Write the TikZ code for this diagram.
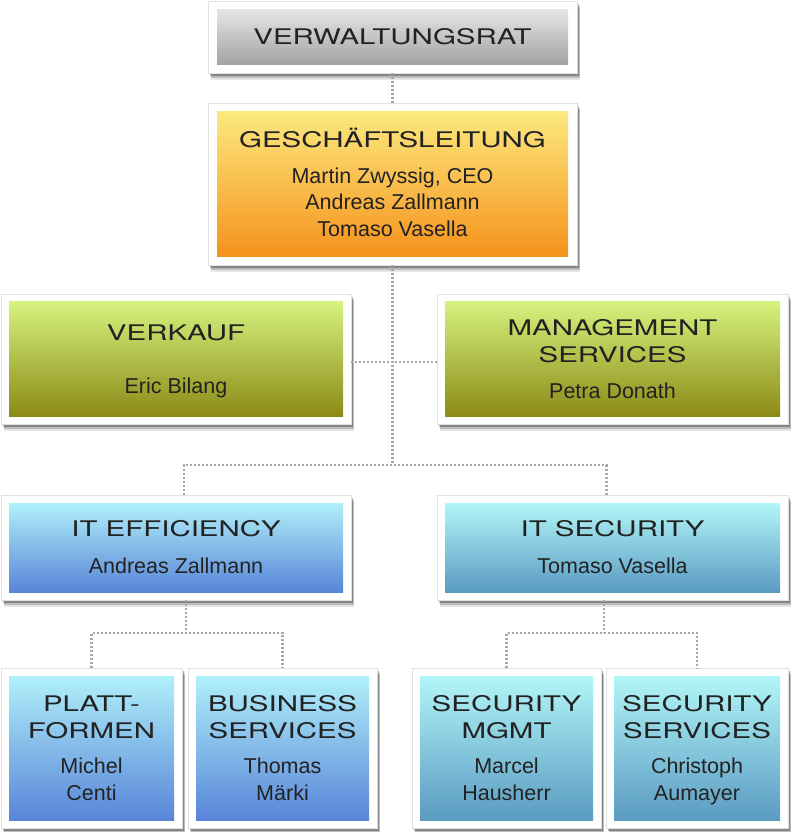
\documentclass[tikz,border=0pt]{standalone}
\usepackage{fontspec}
\setmainfont{Liberation Sans}
\newfontfamily\hdfont[FakeStretch=1.37]{TeX Gyre Heros}
\usetikzlibrary{calc}
\definecolor{gtop}{HTML}{E6E6E6}
\definecolor{gbot}{HTML}{A2A2A2}
\definecolor{otop}{HTML}{FCE97E}
\definecolor{obot}{HTML}{F5921C}
\definecolor{grtop}{HTML}{D6F27E}
\definecolor{grbot}{HTML}{8C8A16}
\definecolor{btop}{HTML}{B0F0FA}
\definecolor{bbot}{HTML}{5885D8}
\definecolor{ttop}{HTML}{B2F6F8}
\definecolor{tbot}{HTML}{5A9BC2}
\definecolor{dotgray}{HTML}{A8A8A8}
\definecolor{txt}{HTML}{222222}
\newcommand{\hdl}[1]{\raisebox{0pt}[15.5pt][0pt]{\hdfont #1}}
\newcommand{\nml}[1]{\raisebox{0pt}[15.5pt][0pt]{#1}}
\begin{document}
\begin{tikzpicture}[x=1pt,y=-1pt,
  conn/.style={draw=dotgray, line width=2.4pt, dash pattern=on 2.2pt off 1.8pt},
  boxframe/.style={fill=white, draw=black!12, line width=0.6pt, inner sep=0pt, outer sep=0pt,
    preaction={fill=black, fill opacity=0.10, draw=none, transform canvas={xshift=3pt,yshift=-7pt}},
    preaction={fill=black, fill opacity=0.18, draw=none, transform canvas={xshift=2.5pt,yshift=-5pt}},
    preaction={fill=black, fill opacity=0.28, draw=none, transform canvas={xshift=2pt,yshift=-3pt}}},
  inbox/.style={inner sep=0pt, outer sep=0pt, align=center, text=txt,
    font=\fontsize{21.5}{26.5}\selectfont},
  grayg/.style={top color=gtop, bottom color=gbot},
  orangeg/.style={top color=otop, bottom color=obot},
  greeng/.style={top color=grtop, bottom color=grbot},
  blueg/.style={top color=btop, bottom color=bbot},
  tealg/.style={top color=ttop, bottom color=tbot}]
\fill[white] (0,0) rectangle (791,832);
\useasboundingbox (0,0) rectangle (791,832);

% frames
\node[boxframe, minimum width=369pt, minimum height=72pt] (vrF) at (392.5,37) {};
\node[boxframe, minimum width=369pt, minimum height=162pt] (glF) at (392.5,184) {};
\node[boxframe, minimum width=350pt, minimum height=130pt] (vkF) at (176,359) {};
\node[boxframe, minimum width=351pt, minimum height=130pt] (msF) at (612.5,359) {};
\node[boxframe, minimum width=350pt, minimum height=105pt] (ieF) at (176,547.5) {};
\node[boxframe, minimum width=351pt, minimum height=105pt] (isF) at (612.5,547.5) {};
\node[boxframe, minimum width=181pt, minimum height=160pt] (plF) at (91.5,748) {};
\node[boxframe, minimum width=189pt, minimum height=160pt] (bsF) at (282.5,748) {};
\node[boxframe, minimum width=189pt, minimum height=160pt] (smF) at (506.5,748) {};
\node[boxframe, minimum width=182pt, minimum height=160pt] (ssF) at (697,748) {};

% coloured boxes with text
\node[inbox, grayg, minimum width=351pt, minimum height=55pt] (vr) at (vrF) {\hdl{VERWALTUNGSRAT}};
\node[inbox, orangeg, minimum width=351pt, minimum height=145pt] (gl) at (glF)
  {\hdl{GESCHÄFTSLEITUNG}\\[9.5pt]\nml{Martin Zwyssig, CEO}\\\nml{Andreas Zallmann}\\\nml{Tomaso Vasella}};
\node[inbox, greeng, minimum width=334pt, minimum height=115pt] (vk) at (vkF)
  {\hdl{VERKAUF}\\[26.5pt]\nml{Eric Bilang}};
\node[inbox, greeng, minimum width=335pt, minimum height=115pt] (ms) at (msF)
  {\hdl{MANAGEMENT}\\\hdl{SERVICES}\\[9.5pt]\nml{Petra Donath}};
\node[inbox, blueg, minimum width=334pt, minimum height=89pt] (ie) at (ieF)
  {\hdl{IT EFFICIENCY}\\[10.5pt]\nml{Andreas Zallmann}};
\node[inbox, tealg, minimum width=335pt, minimum height=89pt] (is) at (isF)
  {\hdl{IT SECURITY}\\[10.5pt]\nml{Tomaso Vasella}};
\node[inbox, blueg, minimum width=165pt, minimum height=144pt] (pl) at (plF)
  {\hdl{PLATT-}\\\hdl{FORMEN}\\[9pt]\nml{Michel}\\\nml{Centi}};
\node[inbox, blueg, minimum width=173pt, minimum height=144pt] (bs) at (bsF)
  {\hdl{BUSINESS}\\\hdl{SERVICES}\\[9pt]\nml{Thomas}\\\nml{Märki}};
\node[inbox, tealg, minimum width=173pt, minimum height=144pt] (sm) at (smF)
  {\hdl{SECURITY}\\\hdl{MGMT}\\[9pt]\nml{Marcel}\\\nml{Hausherr}};
\node[inbox, tealg, minimum width=166pt, minimum height=144pt] (ss) at (ssF)
  {\hdl{SECURITY}\\\hdl{SERVICES}\\[9pt]\nml{Christoph}\\\nml{Aumayer}};

% junction points
\coordinate (j1) at (392.5,465);
\coordinate (jl) at (184,465);
\coordinate (jr) at (606.5,465);
\coordinate (ja) at (185.7,633);
\coordinate (jb) at (604,633);

% connectors
\draw[conn] (vrF.south) -- (glF.north);
\draw[conn] (glF.south) -- (j1);
\draw[conn] ($(vkF.east)+(0,3)$) -- ($(msF.west)+(0,3)$);
\draw[conn] (ieF.north -| jl) -- (jl) -- (jr) -- (isF.north -| jr);
\draw[conn] (ieF.south -| ja) -- (ja);
\draw[conn] (plF.north) -- (plF.north |- ja) -- (bsF.north |- ja) -- (bsF.north);
\draw[conn] (isF.south -| jb) -- (jb);
\draw[conn] (smF.north) -- (smF.north |- jb) -- (ssF.north |- jb) -- (ssF.north);
\end{tikzpicture}
\end{document}
